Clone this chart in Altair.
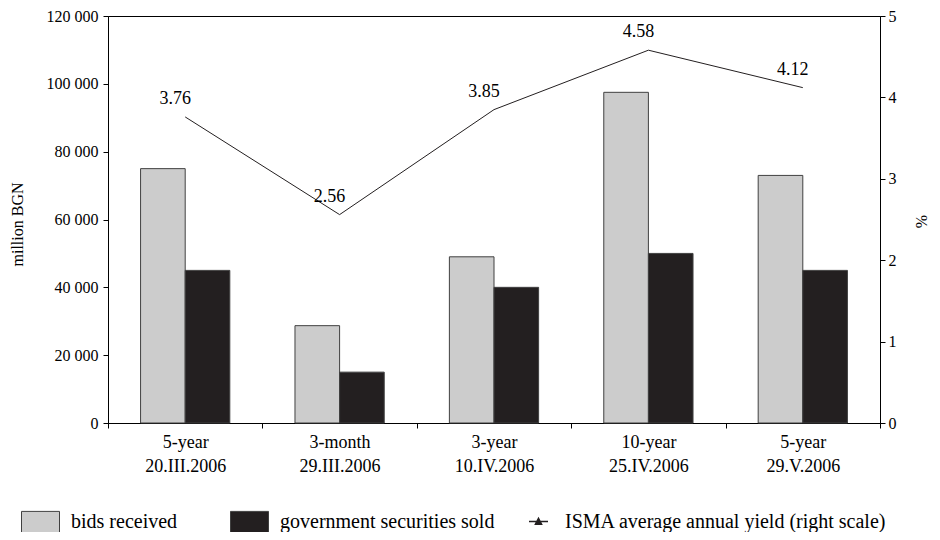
import altair as alt
import pandas as pd

categories = ["5-year|20.III.2006", "3-month|29.III.2006", "3-year|10.IV.2006",
              "10-year|25.IV.2006", "5-year|29.V.2006"]
series_names = ["bids received", "government securities sold"]
bids = [75000, 28700, 49000, 97500, 73000]
sold = [45000, 15000, 40000, 50000, 45000]
yields = [3.76, 2.56, 3.85, 4.58, 4.12]
line_name = "ISMA average annual yield (right scale)"

rows = []
for c, b, s in zip(categories, bids, sold):
    rows.append({"category": c, "series": series_names[0], "value": b})
    rows.append({"category": c, "series": series_names[1], "value": s})
df_bars = pd.DataFrame(rows)
df_line = pd.DataFrame({"category": categories, "yield": yields, "label": line_name})

FONT = "Liberation Serif"
BLACK = "#231f20"

x_enc = alt.X(
    "category:N", sort=categories,
    scale=alt.Scale(paddingInner=0, paddingOuter=0),
    axis=alt.Axis(title=None, labelExpr="split(datum.label, '|')", tickBand="extent",
                  labelAngle=0, labelFontSize=18, labelLineHeight=24, tickSize=5,
                  labelPadding=5, labelColor="black", domainColor="black",
                  tickColor="black", labelFont=FONT),
)

bars = alt.Chart(df_bars).mark_bar(stroke="#404040", strokeWidth=1).encode(
    x=x_enc,
    xOffset=alt.XOffset("series:N", sort=series_names,
                        scale=alt.Scale(paddingInner=0, paddingOuter=0.73)),
    y=alt.Y("value:Q", scale=alt.Scale(domain=[0, 120000]),
            axis=alt.Axis(values=[0, 20000, 40000, 60000, 80000, 100000, 120000],
                          labelExpr="replace(format(datum.value, ','), ',', ' ')",
                          title="million BGN", titleX=-91, titleY=208,
                          titleAngle=-90, titleAlign="center", titleBaseline="middle",
                          titleFontSize=16, titleFontWeight="normal", titleFont=FONT,
                          labelFontSize=16, labelFont=FONT, tickSize=5, labelPadding=5,
                          grid=False, domainColor="black", tickColor="black",
                          labelColor="black", titleColor="black")),
    fill=alt.Fill("series:N", sort=series_names,
                  scale=alt.Scale(domain=series_names, range=["#cccccc", BLACK]),
                  legend=alt.Legend(title=None, orient="none", legendX=-87, legendY=486,
                                    direction="horizontal", symbolType="M-1,-0.55H1V1.2H-1Z",
                                    symbolSize=1444, symbolStrokeColor="#404040",
                                    symbolStrokeWidth=1, labelFontSize=20, labelFont=FONT,
                                    labelColor="black", labelOffset=11, columnPadding=50,
                                    labelLimit=400)),
)

y_line = alt.Y("yield:Q", scale=alt.Scale(domain=[0, 5]),
               axis=alt.Axis(orient="right", values=[0, 1, 2, 3, 4, 5], format="d",
                             title="%", titleX=41, titleY=205, titleAngle=-90,
                             titleAlign="center", titleBaseline="middle", titleFontSize=16,
                             titleFontWeight="normal", titleFont=FONT,
                             labelFontSize=16, labelFont=FONT, tickSize=5, labelPadding=3,
                             grid=False, domainColor="black", tickColor="black",
                             labelColor="black", titleColor="black"))

line = alt.Chart(df_line).mark_line(strokeWidth=1).encode(
    x=alt.X("category:N", sort=categories),
    y=y_line,
    stroke=alt.Stroke("label:N", scale=alt.Scale(range=[BLACK]),
                      legend=alt.Legend(title=None, orient="none", legendX=420, legendY=495,
                                        symbolType="M-1,0H1M-0.32,0.28L0,-0.32L0.32,0.28Z",
                                        symbolSize=361, symbolFillColor=BLACK,
                                        symbolStrokeWidth=1.5, labelFontSize=20,
                                        labelFont=FONT, labelColor="black", labelOffset=16,
                                        labelLimit=500)),
)

labels = alt.Chart(df_line).mark_text(dx=-10, dy=-18, fontSize=18, font=FONT,
                                      color="black").encode(
    x=alt.X("category:N", sort=categories),
    y=alt.Y("yield:Q", scale=alt.Scale(domain=[0, 5])),
    text=alt.Text("yield:Q", format=".2f"),
)

chart = alt.layer(bars, alt.layer(line, labels)).resolve_scale(
    y="independent"
).properties(
    width=772, height=407,
    padding={"left": 100, "top": 8, "right": 52, "bottom": 109},
    autosize=alt.AutoSizeParams(type="none"),
    background="white",
).configure(font=FONT).configure_view(stroke="black", strokeWidth=1).configure_axis(
    domainWidth=1
)

chart.save("out.html", embed_options={"renderer": "svg", "actions": False})
